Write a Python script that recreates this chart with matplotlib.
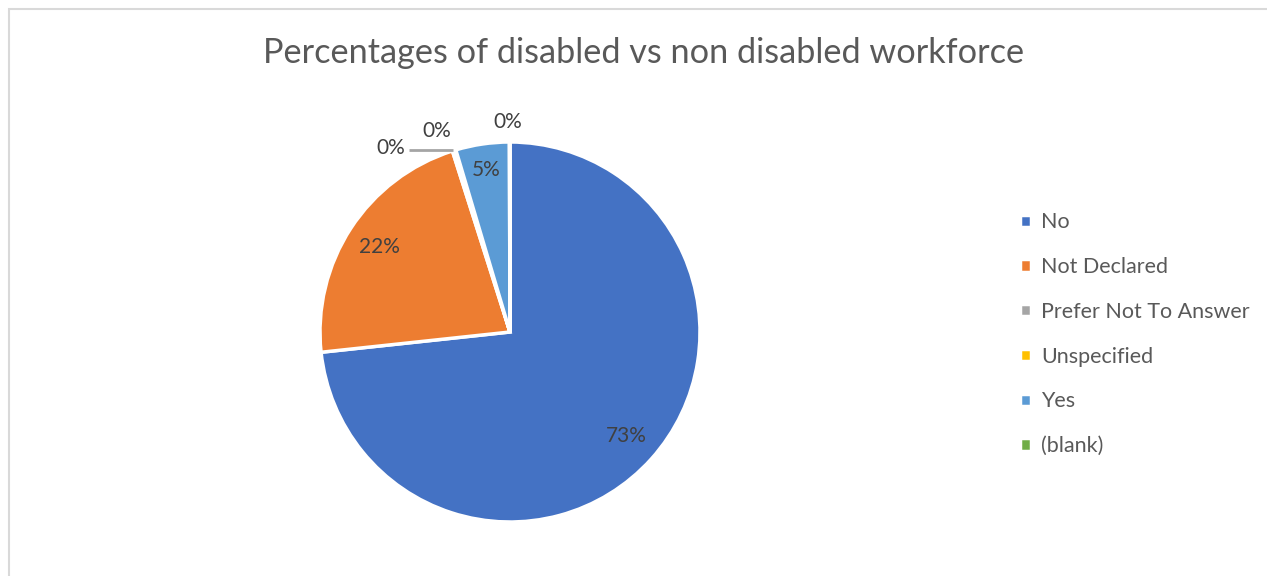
import numpy as np
import matplotlib.pyplot as plt
from matplotlib.patches import Rectangle

plt.rcParams['font.family'] = ['Lato', 'DejaVu Sans']

categories = ["No", "Not Declared", "Prefer Not To Answer", "Unspecified", "Yes", "(blank)"]
values = [73.3, 21.8, 0.25, 0.05, 4.55, 0.05]
colors = ["#4472C4", "#ED7D31", "#A5A5A5", "#FFC000", "#5B9BD5", "#70AD47"]

W, H = 1267, 576
fig = plt.figure(figsize=(W / 100, H / 100), dpi=100)

# chart frame (cut at right and bottom like the screenshot)
fig.patches.append(Rectangle((9 / W, -0.1), 1.2, 1 - 9 / H + 0.1, transform=fig.transFigure,
                             fill=False, edgecolor="#D9D9D9", linewidth=1.5))

cx, cy, r = 510, 332, 190
ax = fig.add_axes([(cx - r) / W, (H - cy - r) / H, 2 * r / W, 2 * r / H])
wedges, _ = ax.pie(values, colors=colors, startangle=90, counterclock=False,
                   wedgeprops=dict(edgecolor="white", linewidth=2.5))
ax.set_xlim(-1, 1)
ax.set_ylim(-1, 1)
ax.set_aspect("equal")
ax.axis("off")

total = sum(values)
lab_color = "#404040"
for i, w in enumerate(wedges):
    pct = "%d%%" % round(values[i] / total * 100)
    mid = np.deg2rad((w.theta1 + w.theta2) / 2)
    if values[i] >= 1:
        d = 0.82 if values[i] > 10 else 0.86
        ax.text(d * np.cos(mid), d * np.sin(mid), pct, ha="center", va="center",
                fontsize=15, color=lab_color)

# small slices: labels outside, like Excel
g = wedges[2]
gm = np.deg2rad((g.theta1 + g.theta2) / 2)
gx, gy = np.cos(gm), np.sin(gm)
ax.plot([gx - 0.235, gx - 0.005], [gy, gy], color="#A5A5A5", lw=2, solid_capstyle="butt")
ax.text(gx - 0.255, gy + 0.015, "0%", ha="right", va="center", fontsize=15, color=lab_color)
ax.text(-0.385, 1.06, "0%", ha="center", va="center", fontsize=15, color=lab_color)
ax.text(-0.01, 1.105, "0%", ha="center", va="center", fontsize=15, color=lab_color)

fig.text(644 / W, 1 - 53 / H, "Percentages of disabled vs non disabled workforce",
         ha="center", va="center", fontsize=24.7, color="#595959")

fig.legend(wedges, categories, loc="upper left", bbox_to_anchor=(1001 / W, 1 - 193 / H),
           frameon=False, fontsize=15.5, labelcolor="#595959", handlelength=0.5,
           handleheight=0.5, handletextpad=0.45, labelspacing=1.15)

fig.savefig("out.png", dpi=100)
